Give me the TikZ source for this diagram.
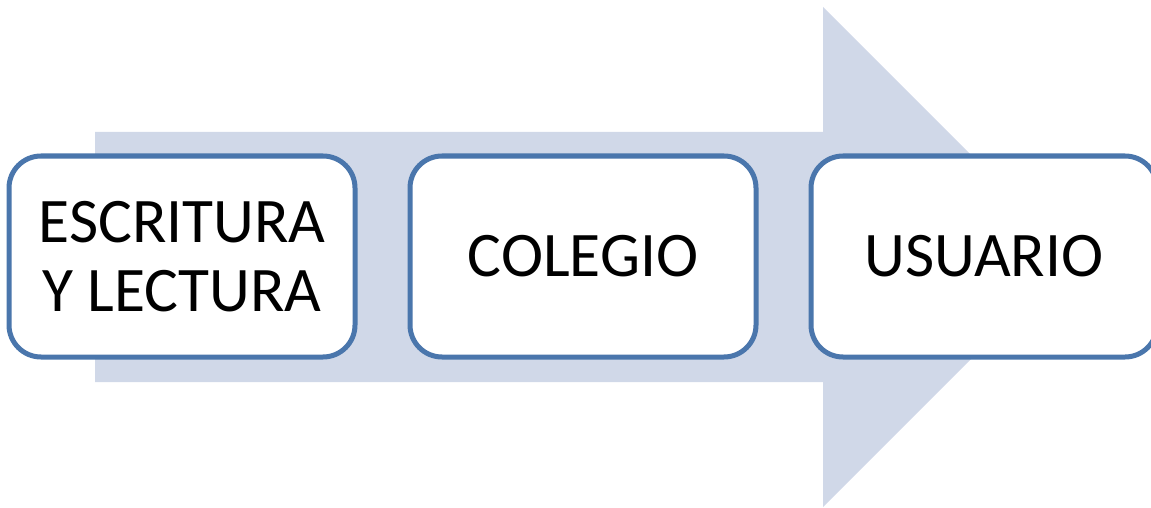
\documentclass[tikz,border=0pt]{standalone}
\usepackage{fontspec}
\setmainfont{Carlito}
\definecolor{boxline}{HTML}{4A76AC}
\definecolor{arrowfill}{HTML}{D0D8E8}
\begin{document}
\begin{tikzpicture}[x=1pt,y=-1pt,
  stage/.style={draw=boxline, line width=5pt, fill=white, rounded corners=32pt,
    minimum width=346pt, minimum height=201pt, align=center, inner sep=0pt,
    font=\fontsize{63.5}{69}\selectfont, text=black}]
\useasboundingbox (0,0) rectangle (1151,508);
\clip (0,0) rectangle (1151,508);
\fill[arrowfill] (95,132) -- (823,132) -- (823,7) -- (1073,257) -- (823,507) -- (823,382) -- (95,382) -- cycle;
\node[stage] (a) at (182,256.5) {ESCRITURA\\Y LECTURA};
\node[stage] (b) at (583,256.5) {COLEGIO};
\node[stage] (c) at (984,256.5) {USUARIO};
\end{tikzpicture}
\end{document}
